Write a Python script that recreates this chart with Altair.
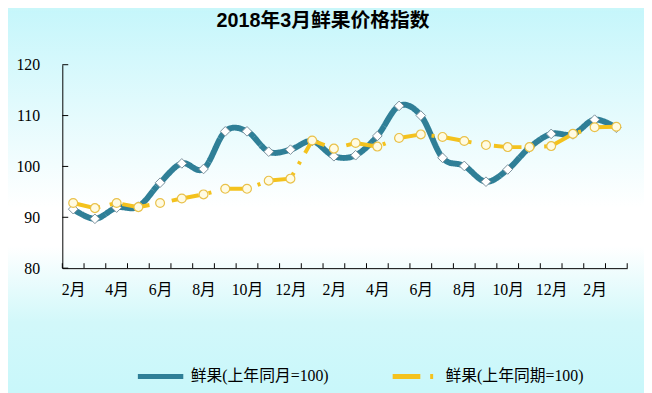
import altair as alt
import pandas as pd

periods = ["2016-02", "2016-03", "2016-04", "2016-05", "2016-06", "2016-07",
           "2016-08", "2016-09", "2016-10", "2016-11", "2016-12", "2017-01",
           "2017-02", "2017-03", "2017-04", "2017-05", "2017-06", "2017-07",
           "2017-08", "2017-09", "2017-10", "2017-11", "2017-12", "2018-01",
           "2018-02", "2018-03"]

blue_name = "鲜果(上年同月=100)"
yellow_name = "鲜果(上年同期=100)"

blue_values = [91.6, 89.7, 91.9, 92.1, 96.8, 100.6, 99.5, 106.9, 106.9, 102.9,
               103.3, 105.0, 102.0, 102.2, 106.0, 111.9, 110.0, 101.7, 100.1,
               97.0, 99.4, 103.7, 106.4, 106.3, 109.2, 107.6]
yellow_values = [92.8, 91.8, 92.8, 92.0, 92.8, 93.7, 94.5, 95.6, 95.6, 97.2,
                 97.6, 105.1, 103.5, 104.6, 103.9, 105.6, 106.3, 105.8, 105.0,
                 104.2, 103.8, 103.8, 104.0, 106.4, 107.7, 107.8]

y_ticks = [80, 90, 100, 110, 120]

BLUE = "#2f7f97"
YELLOW = "#f4c21d"
W, H = 572, 206
PAD = {"left": 55, "top": 55, "right": 17, "bottom": 124}
SERIF = "Liberation Serif, Noto Sans CJK SC"

df = pd.DataFrame(
    [{"t": t, "series": blue_name, "value": v} for t, v in zip(periods, blue_values)]
    + [{"t": t, "series": yellow_name, "value": v} for t, v in zip(periods, yellow_values)]
)

xscale = alt.Scale(type="point", padding=0.5)
yscale = alt.Scale(domain=[80, 120], nice=False, zero=False)

x_enc = alt.X("t:N", sort=periods, scale=xscale, axis=alt.Axis(
    title=None, ticks=False, domainColor="#000", domainWidth=1, zindex=1,
    labelAngle=0, labelFont=SERIF, labelFontSize=16, labelColor="#000",
    labelPadding=14, labelOverlap=False,
    labelExpr="(toNumber(substring(datum.value,5,7)) % 2 == 0) ? toNumber(substring(datum.value,5,7)) + '月' : ''"))
y_enc = alt.Y("value:Q", scale=yscale, axis=alt.Axis(
    title=None, values=y_ticks, ticks=False, grid=False, domainColor="#000",
    domainWidth=1, zindex=1, labelFont=SERIF, labelFontSize=16, labelColor="#000",
    labelPadding=23))

color_scale = alt.Scale(domain=[blue_name, yellow_name], range=[BLUE, YELLOW])
dash_scale = alt.Scale(domain=[blue_name, yellow_name], range=[[1, 0], [28, 10, 3, 10]])
leg = alt.Legend(title=None, orient="none", legendX=74, legendY=290,
                 direction="horizontal", symbolType="stroke", symbolSize=2116,
                 symbolStrokeWidth=5, labelFont=SERIF, labelFontSize=16,
                 labelColor="#000", labelOffset=5, columnPadding=54, padding=0,
                 zindex=1)

base = alt.Chart(df)

bg = alt.Chart(pd.DataFrame({"a": [0]})).mark_rect(
    color=alt.Gradient(gradient="linear", x1=0, x2=0, y1=0, y2=1, stops=[
        alt.GradientStop(offset=0, color="#c6f6fb"),
        alt.GradientStop(offset=0.52, color="#ffffff"),
        alt.GradientStop(offset=0.62, color="#ffffff"),
        alt.GradientStop(offset=0.82, color="#d2f8fa"),
        alt.GradientStop(offset=1, color="#c9f7fa"),
    ])
).encode(x=alt.value(-PAD["left"]), x2=alt.value(W + PAD["right"]),
         y=alt.value(-PAD["top"]), y2=alt.value(H + PAD["bottom"]))

blue_line = base.transform_filter(alt.datum.series == blue_name).mark_line(
    interpolate="cardinal", strokeWidth=6).encode(
    x=x_enc, y=y_enc,
    color=alt.Color("series:N", scale=color_scale, legend=leg),
    strokeDash=alt.StrokeDash("series:N", scale=dash_scale, legend=leg))

yellow_line = base.transform_filter(alt.datum.series == yellow_name).mark_line(
    strokeWidth=4).encode(
    x=x_enc, y=y_enc,
    color=alt.Color("series:N", scale=color_scale, legend=leg),
    strokeDash=alt.StrokeDash("series:N", scale=dash_scale, legend=leg))

blue_pts = base.transform_filter(alt.datum.series == blue_name).mark_point(
    shape="diamond", filled=True, fill="white", stroke="#7d919c",
    strokeWidth=1, size=95, opacity=1).encode(x=x_enc, y=y_enc)

yellow_pts = base.transform_filter(alt.datum.series == yellow_name).mark_point(
    shape="circle", filled=True, fill="#fffbe2", stroke="#e9c14a",
    strokeWidth=1.2, size=80, opacity=1).encode(x=x_enc, y=y_enc)

x_ticks = base.transform_filter(alt.datum.series == blue_name).mark_rule(
    color="#000", strokeWidth=1, xOffset=-11).encode(
    x=x_enc, y=alt.value(H - 5), y2=alt.value(H))
x_tick_end = base.transform_filter(
    (alt.datum.series == blue_name) & (alt.datum.t == periods[-1])).mark_rule(
    color="#000", strokeWidth=1, xOffset=11).encode(
    x=x_enc, y=alt.value(H - 5), y2=alt.value(H))

y_tick_marks = alt.Chart(pd.DataFrame({"value": y_ticks})).mark_rule(
    color="#000", strokeWidth=1).encode(
    y=y_enc, x=alt.value(0), x2=alt.value(6))

chart = alt.layer(
    bg, x_ticks, x_tick_end, y_tick_marks, blue_line, blue_pts, yellow_line, yellow_pts
).properties(
    width=W, height=H,
    padding=PAD,
    autosize=alt.AutoSizeParams(type="none"),
    background="#c9f7fa",
    title=alt.Title("2018年3月鲜果价格指数", font="Liberation Sans, Noto Sans CJK SC",
                    fontSize=20, fontWeight="bold", color="#000", offset=-21, dx=-22),
).configure_view(stroke=None)

chart.save("out.html", embed_options={"renderer": "svg", "actions": False})
